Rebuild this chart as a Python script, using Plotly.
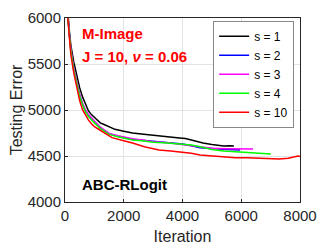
import plotly.graph_objects as go

# Iteration / testing error samples
it_s1 = [0, 50, 100, 150, 200, 300, 400, 500, 600, 700, 800, 900, 1000, 1100, 1200, 1350, 1500, 1700, 2000, 2300, 2600, 2900, 3200, 3500, 3900, 4100, 4300, 4500, 4700, 5000, 5200, 5400, 5600, 5750]
err_s1 = [9000, 7000, 6050, 5850, 5700, 5520, 5370, 5240, 5140, 5060, 4990, 4950, 4920, 4885, 4860, 4840, 4815, 4790, 4770, 4750, 4740, 4728, 4722, 4712, 4696, 4690, 4674, 4655, 4641, 4625, 4618, 4610, 4612, 4608]

it_s2 = [0, 50, 100, 150, 200, 300, 400, 500, 600, 700, 800, 900, 1000, 1200, 1500, 1800, 2000, 2300, 2700, 3000, 3500, 4000, 4300, 4600, 5000, 5300, 5500, 5800, 5960]
err_s2 = [9000, 6900, 6000, 5800, 5650, 5440, 5290, 5160, 5060, 4990, 4940, 4900, 4870, 4810, 4740, 4715, 4700, 4680, 4668, 4660, 4641, 4630, 4612, 4590, 4582, 4580, 4572, 4568, 4565]

it_s3 = [0, 50, 100, 150, 200, 300, 400, 500, 600, 700, 800, 900, 1000, 1200, 1500, 1800, 2000, 2300, 2700, 3000, 3500, 4000, 4300, 4600, 5000, 5500, 6000, 6200, 6400]
err_s3 = [9000, 6950, 6020, 5810, 5660, 5450, 5300, 5170, 5070, 5000, 4950, 4910, 4880, 4815, 4745, 4720, 4705, 4688, 4670, 4655, 4645, 4625, 4612, 4595, 4585, 4580, 4578, 4580, 4576]

it_s4 = [0, 50, 100, 150, 200, 300, 400, 500, 600, 700, 800, 900, 1000, 1200, 1500, 1800, 2000, 2300, 2700, 3000, 3500, 4000, 4300, 4600, 5000, 5400, 5800, 6200, 6500, 6800, 7010]
err_s4 = [9000, 6900, 5990, 5790, 5640, 5430, 5280, 5150, 5050, 4980, 4930, 4890, 4860, 4800, 4735, 4710, 4695, 4675, 4662, 4650, 4640, 4632, 4620, 4601, 4570, 4554, 4545, 4538, 4533, 4528, 4522]

it_s10 = [0, 50, 100, 150, 200, 300, 400, 500, 600, 700, 800, 900, 1000, 1200, 1400, 1600, 2000, 2300, 2700, 3200, 3600, 4000, 4300, 4600, 5000, 5400, 5800, 6200, 6500, 6900, 7300, 7600, 7800, 7930, 8000]
err_s10 = [9000, 6800, 5980, 5760, 5600, 5400, 5230, 5100, 5000, 4940, 4890, 4850, 4820, 4780, 4735, 4700, 4665, 4641, 4600, 4565, 4555, 4543, 4530, 4511, 4500, 4489, 4482, 4480, 4478, 4472, 4467, 4475, 4490, 4500, 4495]

series_names = ["s = 1", "s = 2", "s = 3", "s = 4", "s = 10"]
series_colors = ["#000000", "#0000ff", "#ff00ff", "#00ff00", "#ff0000"]

x_ticks = [0, 2000, 4000, 6000, 8000]
y_ticks = [4000, 4500, 5000, 5500, 6000]

data = [(it_s1, err_s1), (it_s2, err_s2), (it_s3, err_s3), (it_s4, err_s4), (it_s10, err_s10)]

fig = go.Figure()
for (xs, ys), name, col in zip(data, series_names, series_colors):
    fig.add_trace(go.Scatter(x=xs, y=ys, mode="lines", name=name,
                             line=dict(color=col, width=1.5)))

font_family = "Liberation Sans, Arial, sans-serif"
axis_common = dict(showgrid=True, gridcolor="#e3e3e3", gridwidth=1,
                   showline=True, linecolor="#262626", linewidth=1, mirror=True,
                   ticks="inside", ticklen=3, tickcolor="#262626", automargin=False,
                   zeroline=False, tickfont=dict(size=15, color="#262626", family=font_family))

fig.update_layout(
    width=332, height=249,
    margin=dict(l=57, r=40, t=10, b=55),
    paper_bgcolor="white", plot_bgcolor="white",
    font=dict(family=font_family, color="#262626"),
    xaxis=dict(range=[0, 8000], tickvals=x_ticks,
               title=dict(text="Iteration", font=dict(size=16), standoff=7), **axis_common),
    yaxis=dict(range=[4000, 6000], tickvals=y_ticks,
               title=dict(text="Testing Error", font=dict(size=16), standoff=4), **axis_common),
    legend=dict(x=0.975, y=0.985, xanchor="right", yanchor="top",
                bgcolor="white", bordercolor="#888888", borderwidth=1,
                font=dict(size=12, color="#000000"), tracegroupgap=0,
                itemwidth=30),
    showlegend=True,
)

fig.add_annotation(x=0.065, y=0.915, xref="paper", yref="paper", xanchor="left", yanchor="middle",
                   text="<b>M-Image</b>", showarrow=False,
                   font=dict(size=15, color="#ff0000", family=font_family))
fig.add_annotation(x=0.065, y=0.79, xref="paper", yref="paper", xanchor="left", yanchor="middle",
                   text="<b>J = 10, <i>ν</i> = 0.06</b>", showarrow=False,
                   font=dict(size=15, color="#ff0000", family=font_family))
fig.add_annotation(x=0.065, y=0.095, xref="paper", yref="paper", xanchor="left", yanchor="middle",
                   text="<b>ABC-RLogit</b>", showarrow=False,
                   font=dict(size=15, color="#000000", family=font_family))

fig.write_html("out.html")
